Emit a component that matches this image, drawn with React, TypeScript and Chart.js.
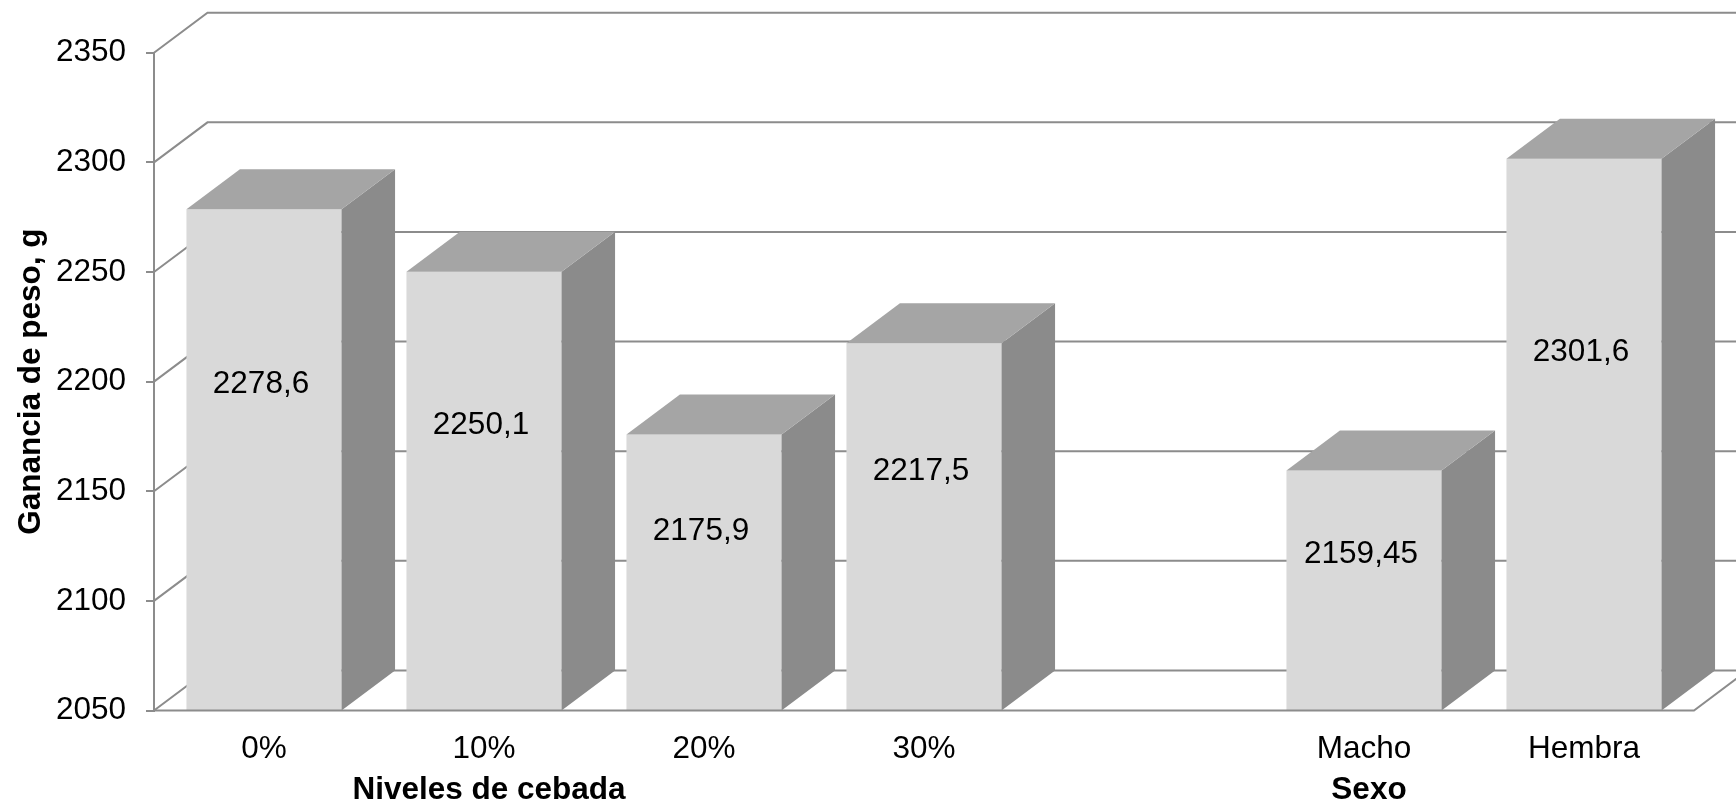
import { useEffect, useRef } from 'react';
import { Chart, registerables } from 'chart.js';

Chart.register(...registerables);

// ---- data ----
const categories = ['0%', '10%', '20%', '30%', '', 'Macho', 'Hembra'];
const values: (number | null)[] = [2278.6, 2250.1, 2175.9, 2217.5, null, 2159.45, 2301.6];
const yMin = 2050;
const yMax = 2350;
const yStep = 50;
const yTitle = 'Ganancia de peso, g';
const groupTitles = ['Niveles de cebada', 'Sexo'];
const groupAnchors = [1, 5]; // category index under which each group title sits

// ---- style ----
const W = 1736;
const H = 806;
const FONT = '"Liberation Sans", Arial, Helvetica, sans-serif';
const FS = 31.5;
const LINE = '#8c8c8c';
const FRONT = '#d9d9d9';
const TOPC = '#a5a5a5';
const SIDE = '#8b8b8b';
const DX = 53.5;
const DY = 40;

const fmt = (v: number) => String(v).replace('.', ',');

const threeD = {
  id: 'threeD',
  beforeDatasetsDraw(chart: any) {
    const { ctx, chartArea: a, scales } = chart;
    const y = scales.y;
    ctx.save();
    ctx.strokeStyle = LINE;
    ctx.lineWidth = 2;
    for (let v = yMin; v <= yMax; v += yStep) {
      const py = y.getPixelForValue(v);
      ctx.beginPath();
      ctx.moveTo(a.left, py);
      ctx.lineTo(a.left + DX, py - DY);
      ctx.lineTo(a.right + DX + 60, py - DY);
      ctx.stroke();
    }
    ctx.restore();
  },
  afterDatasetsDraw(chart: any) {
    const { ctx, chartArea: a, scales } = chart;
    const meta = chart.getDatasetMeta(0);
    const floorY = scales.y.getPixelForValue(yMin);
    ctx.save();
    meta.data.forEach((bar: any, i: number) => {
      const v = values[i];
      if (v == null) return;
      const { x, width } = bar.getProps(['x', 'width'], true);
      const top = scales.y.getPixelForValue(v);
      const base = floorY;
      const l = x - width / 2;
      const r = x + width / 2;
      ctx.fillStyle = SIDE;
      ctx.beginPath();
      ctx.moveTo(r, top);
      ctx.lineTo(r + DX, top - DY);
      ctx.lineTo(r + DX, base - DY);
      ctx.lineTo(r, base);
      ctx.closePath();
      ctx.fill();
      ctx.fillStyle = TOPC;
      ctx.beginPath();
      ctx.moveTo(l, top);
      ctx.lineTo(l + DX, top - DY);
      ctx.lineTo(r + DX, top - DY);
      ctx.lineTo(r, top);
      ctx.closePath();
      ctx.fill();
    });
    // floor front edge
    ctx.strokeStyle = LINE;
    ctx.lineWidth = 2;
    ctx.beginPath();
    ctx.moveTo(a.left, a.bottom);
    ctx.lineTo(a.right, a.bottom);
    ctx.lineTo(a.right + DX, a.bottom - DY);
    ctx.stroke();
    // data labels
    ctx.fillStyle = '#000';
    ctx.font = `${FS}px ${FONT}`;
    ctx.textAlign = 'center';
    ctx.textBaseline = 'middle';
    meta.data.forEach((bar: any, i: number) => {
      const v = values[i];
      if (v == null) return;
      const { x } = bar.getProps(['x'], true);
      const top = scales.y.getPixelForValue(v);
      ctx.fillText(fmt(v), x - 3, top + 0.35 * (floorY - top));
    });
    // group titles
    ctx.font = `bold ${FS}px ${FONT}`;
    groupTitles.forEach((t, k) => {
      const px = scales.x.getPixelForValue(groupAnchors[k]);
      ctx.fillText(t, px + 5, 790);
    });
    ctx.restore();
  },
};

export default function App() {
  const ref = useRef<HTMLCanvasElement>(null);
  useEffect(() => {
    const canvas = ref.current!;
    Chart.defaults.font.family = FONT;
    Chart.defaults.font.size = FS;
    Chart.defaults.color = '#000';
    const chart = new Chart(canvas, {
      type: 'bar',
      data: {
        labels: categories,
        datasets: [
          {
            data: values as any,
            backgroundColor: FRONT,
            borderWidth: 0,
            categoryPercentage: 1,
            barPercentage: 0.705,
          },
        ],
      },
      options: {
        responsive: false,
        animation: false,
        events: [],
        layout: { padding: { top: 52.7, right: 42, left: 0, bottom: 0 } },
        plugins: { legend: { display: false }, tooltip: { enabled: false } },
        scales: {
          x: {
            type: 'category',
            grid: { display: false, drawTicks: false },
            border: { display: false },
            ticks: { padding: 19.6, font: { size: FS, family: FONT }, color: '#000', maxRotation: 0, autoSkip: false },
            afterFit: (s: any) => {
              s.height = H - 710.5;
            },
          },
          y: {
            type: 'linear',
            min: yMin,
            max: yMax,
            grid: { display: true, drawOnChartArea: false, drawTicks: true, tickLength: 8, color: LINE, lineWidth: 2 },
            border: { display: true, color: LINE, width: 2 },
            ticks: {
              stepSize: yStep,
              padding: 20,
              font: { size: FS, family: FONT },
              color: '#000',
              callback: (v: any) => String(v),
            },
            title: {
              display: true,
              text: yTitle,
              color: '#000',
              font: { size: FS, family: FONT, weight: 'bold' },
              padding: { top: 12, bottom: 0 },
            },
            afterFit: (s: any) => {
              s.width = 154;
            },
          },
        },
      },
      plugins: [threeD],
    });
    return () => chart.destroy();
  }, []);
  return (
    <div style={{ position: 'fixed', left: 0, top: 0, width: W, height: H, background: '#fff' }}>
      <canvas ref={ref} width={W} height={H} style={{ display: 'block', width: W, height: H }} />
    </div>
  );
}
